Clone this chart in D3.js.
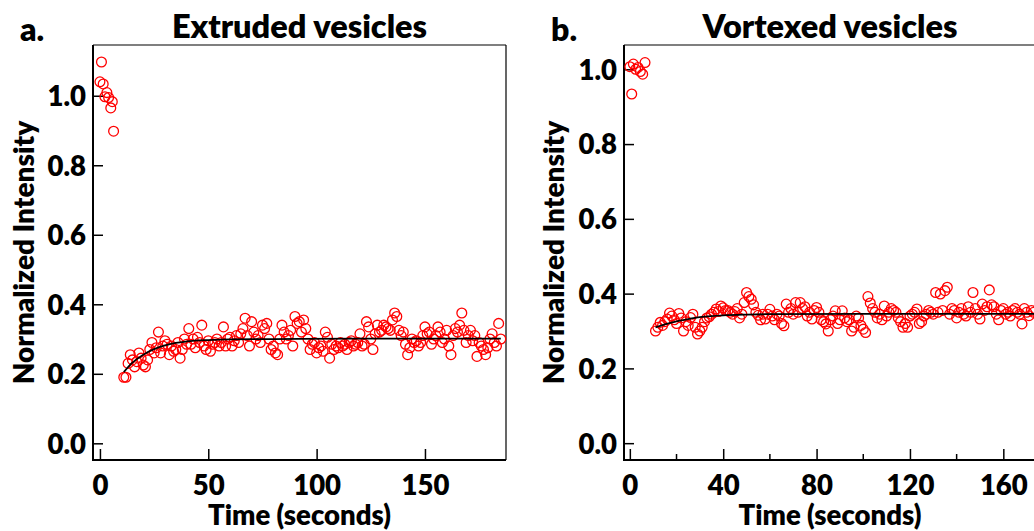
<!DOCTYPE html>
<html>
<head>
<meta charset="utf-8">
<script src="https://cdn.jsdelivr.net/npm/d3@7"></script>
<style>
  body { margin: 0; background: #fff; }
  text { font-family: Lato, "Open Sans", sans-serif; font-weight: 800; fill: #000; }
</style>
</head>
<body>
<svg id="chart" width="1034" height="531"></svg>
<script>
// tick values
const yTicks = [0, 0.2, 0.4, 0.6, 0.8, 1.0];
const xTicksA = [0, 50, 100, 150];
const xTicksB = [0, 40, 80, 120, 160];
const xMinorB = [20, 60, 100, 140];

// panel a: extruded vesicles
const preTimeA = [0, 0.7, 1.5, 2.3, 3.2, 4.0, 5.0, 5.7, 6.3];
const preValA = [1.04, 1.097, 1.034, 0.997, 1.009, 0.995, 0.965, 0.983, 0.898];
const recStartA = 11;
const recValA = [
  0.19, 0.19, 0.23, 0.255, 0.24, 0.22, 0.235, 0.26, 0.245, 0.225,
  0.22, 0.24, 0.27, 0.29, 0.26, 0.275, 0.32, 0.26, 0.28, 0.295,
  0.285, 0.255, 0.28, 0.265, 0.27, 0.29, 0.245, 0.27, 0.30, 0.285,
  0.33, 0.285, 0.30, 0.275, 0.305, 0.29, 0.34, 0.28, 0.27, 0.295,
  0.265, 0.285, 0.29, 0.30, 0.28, 0.29, 0.335, 0.28, 0.30, 0.305,
  0.28, 0.295, 0.31, 0.29, 0.315, 0.33, 0.36, 0.31, 0.28, 0.35,
  0.32, 0.30, 0.31, 0.29, 0.34, 0.33, 0.345, 0.30, 0.27, 0.28,
  0.26, 0.255, 0.30, 0.34, 0.32, 0.30, 0.31, 0.325, 0.28, 0.365,
  0.345, 0.35, 0.32, 0.355, 0.33, 0.30, 0.27, 0.285, 0.29, 0.26,
  0.275, 0.28, 0.265, 0.32, 0.305, 0.245, 0.285, 0.27, 0.28, 0.275,
  0.29, 0.28, 0.285, 0.27, 0.29, 0.295, 0.28, 0.285, 0.29, 0.315,
  0.28, 0.285, 0.35, 0.335, 0.30, 0.27, 0.315, 0.34, 0.32, 0.325,
  0.34, 0.335, 0.33, 0.325, 0.355, 0.375, 0.365, 0.325, 0.31, 0.32,
  0.285, 0.255, 0.275, 0.30, 0.29, 0.295, 0.28, 0.29, 0.31, 0.335,
  0.315, 0.32, 0.285, 0.30, 0.31, 0.335, 0.32, 0.29, 0.30, 0.325,
  0.28, 0.255, 0.31, 0.33, 0.32, 0.34, 0.375, 0.325, 0.29, 0.31,
  0.325, 0.295, 0.31, 0.25, 0.29, 0.28, 0.27, 0.255, 0.275, 0.30,
  0.315, 0.29, 0.28, 0.345, 0.30
];
const fitTimeA = [11, 15, 20, 25, 30, 35, 40, 50, 60, 80, 120, 185];
const fitValA = [0.205, 0.232, 0.255, 0.271, 0.282, 0.289, 0.293, 0.297, 0.299, 0.300, 0.301, 0.301];

// panel b: vortexed vesicles
const preTimeB = [0, 0.8, 1.5, 2.5, 3.5, 4.5, 5.5, 6.5];
const preValB = [1.007, 0.934, 1.014, 1.0, 1.005, 0.994, 0.987, 1.018];
const recStartB = 11;
const recValB = [
  0.30, 0.31, 0.323, 0.315, 0.325, 0.332, 0.348, 0.34, 0.33, 0.32,
  0.347, 0.335, 0.30, 0.325, 0.315, 0.336, 0.345, 0.31, 0.292, 0.30,
  0.31, 0.325, 0.335, 0.338, 0.345, 0.35, 0.359, 0.352, 0.367, 0.362,
  0.355, 0.355, 0.35, 0.345, 0.352, 0.36, 0.335, 0.345, 0.376, 0.403,
  0.392, 0.385, 0.37, 0.35, 0.342, 0.33, 0.345, 0.332, 0.345, 0.358,
  0.34, 0.33, 0.345, 0.34, 0.32, 0.314, 0.372, 0.35, 0.36, 0.345,
  0.376, 0.35, 0.376, 0.36, 0.365, 0.34, 0.35, 0.332, 0.355, 0.363,
  0.35, 0.33, 0.325, 0.319, 0.30, 0.33, 0.34, 0.354, 0.32, 0.33,
  0.354, 0.335, 0.325, 0.33, 0.30, 0.31, 0.34, 0.335, 0.315, 0.305,
  0.296, 0.392, 0.375, 0.36, 0.35, 0.335, 0.345, 0.33, 0.367, 0.34,
  0.35, 0.36, 0.355, 0.35, 0.335, 0.325, 0.31, 0.32, 0.31, 0.34,
  0.345, 0.35, 0.359, 0.32, 0.325, 0.34, 0.345, 0.355, 0.35, 0.345,
  0.403, 0.35, 0.399, 0.355, 0.408, 0.417, 0.345, 0.36, 0.355, 0.335,
  0.35, 0.36, 0.345, 0.34, 0.365, 0.35, 0.403, 0.36, 0.345, 0.332,
  0.372, 0.355, 0.365, 0.41, 0.37, 0.365, 0.345, 0.33, 0.355, 0.36,
  0.345, 0.35, 0.34, 0.355, 0.36, 0.35, 0.345, 0.319, 0.36, 0.35,
  0.341, 0.355, 0.35
];
const fitTimeB = [11, 15, 20, 25, 30, 35, 40, 50, 60, 100, 174];
const fitValB = [0.310, 0.318, 0.326, 0.332, 0.337, 0.340, 0.342, 0.344, 0.345, 0.346, 0.346];

const frameStep = 1; // seconds between frames

const svg = d3.select("#chart");

const toPoints = (preT, preV, start, rec) => {
  const pts = preT.map((t, i) => [t, preV[i]]);
  rec.forEach((v, i) => pts.push([start + i * frameStep, v]));
  return pts;
}

const drawPanel = (cfg) => {
  const { left, right, top, bottom } = cfg.box;
  const x = d3.scaleLinear().domain(cfg.xDomain).range([left, right]);
  const y = d3.scaleLinear().domain(cfg.yDomain).range([bottom, top]);
  const g = svg.append("g");

  // frame: heavier left/bottom
  g.append("line").attr("x1", left).attr("x2", right).attr("y1", top).attr("y2", top)
    .attr("stroke", "#000").attr("stroke-width", 1.2);
  g.append("line").attr("x1", right).attr("x2", right).attr("y1", top).attr("y2", bottom)
    .attr("stroke", "#000").attr("stroke-width", 1.2);
  g.append("line").attr("x1", left).attr("x2", left).attr("y1", top).attr("y2", bottom + 1)
    .attr("stroke", "#000").attr("stroke-width", 2);
  g.append("line").attr("x1", left - 1).attr("x2", right).attr("y1", bottom).attr("y2", bottom)
    .attr("stroke", "#000").attr("stroke-width", 2);

  const yAxis = g.append("g")
    .attr("transform", `translate(${left},0)`)
    .call(d3.axisLeft(y).tickValues(yTicks).tickFormat(d3.format(".1f")).tickSize(-10).tickPadding(7));
  yAxis.select(".domain").remove();
  yAxis.selectAll("line").attr("stroke-width", 1.5);
  yAxis.selectAll("text").attr("font-size", 27.5).attr("dy", "0.36em");

  const xAxis = g.append("g")
    .attr("transform", `translate(0,${bottom})`)
    .call(d3.axisBottom(x).tickValues(cfg.xTicks).tickSize(-11).tickPadding(15));
  xAxis.select(".domain").remove();
  xAxis.selectAll("line").attr("stroke-width", 1.5);
  xAxis.selectAll("text").attr("font-size", 27.5);

  if (cfg.xMinor) {
    g.selectAll(".minor").data(cfg.xMinor).join("line")
      .attr("x1", d => x(d)).attr("x2", d => x(d))
      .attr("y1", bottom).attr("y2", bottom - 6)
      .attr("stroke", "#000").attr("stroke-width", 1.5);
  }
  svg.selectAll(".tick text").attr("font-family", null);

  // data
  g.append("g").selectAll("circle").data(cfg.points).join("circle")
    .attr("cx", d => x(d[0]))
    .attr("cy", d => y(d[1]))
    .attr("r", 4.9)
    .attr("fill", "none")
    .attr("stroke", "#ff0000")
    .attr("stroke-width", 1.3);

  // fitted recovery
  const line = d3.line().x(d => x(d[0])).y(d => y(d[1])).curve(d3.curveMonotoneX);
  g.append("path")
    .datum(cfg.fitT.map((t, i) => [t, cfg.fitV[i]]))
    .attr("d", line)
    .attr("fill", "none")
    .attr("stroke", "#000")
    .attr("stroke-width", 1.8);

  // labels
  g.append("text").attr("x", (left + right) / 2).attr("y", 38)
    .attr("text-anchor", "middle").attr("font-size", 32.5).text(cfg.title);
  g.append("text").attr("x", cfg.letterX).attr("y", 41)
    .attr("font-size", 32).text(cfg.letter);
  g.append("text").attr("x", (left + right) / 2).attr("y", 525)
    .attr("text-anchor", "middle").attr("font-size", 27.5).text("Time (seconds)");
  g.append("text")
    .attr("transform", `translate(${cfg.yLabelX},${(top + bottom) / 2}) rotate(-90)`)
    .attr("text-anchor", "middle").attr("font-size", 28).text("Normalized Intensity");
}

drawPanel({
  box: { left: 93, right: 506, top: 45, bottom: 460 },
  xDomain: [-3.2, 187.4],
  yDomain: [-0.048, 1.146],
  xTicks: xTicksA,
  points: toPoints(preTimeA, preValA, recStartA, recValA),
  fitT: fitTimeA, fitV: fitValA,
  title: "Extruded vesicles", letter: "a.", letterX: 20, yLabelX: 34
});

drawPanel({
  box: { left: 624, right: 1036, top: 45, bottom: 460 },
  xDomain: [-2.5, 174],
  yDomain: [-0.045, 1.065],
  xTicks: xTicksB, xMinor: xMinorB,
  points: toPoints(preTimeB, preValB, recStartB, recValB),
  fitT: fitTimeB, fitV: fitValB,
  title: "Vortexed vesicles", letter: "b.", letterX: 551, yLabelX: 564
});
</script>
</body>
</html>
